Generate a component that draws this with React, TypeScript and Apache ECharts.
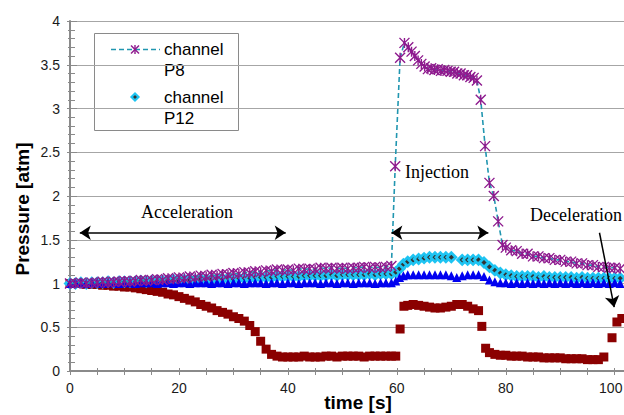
import React, { useEffect, useRef } from "react";
import * as echarts from "echarts";

// time [s], pressure [atm]
const channelP8: [number, number][] = [
  [0, 1.0], [1, 1.0], [2, 1.01], [3, 1.0], [4, 1.01], [5, 1.01], [6, 1.02], [7, 1.01], [8, 1.02], [9, 1.02],
  [10, 1.03], [11, 1.02], [12, 1.03], [13, 1.04], [14, 1.03], [15, 1.04], [16, 1.05], [17, 1.04], [18, 1.06], [19, 1.05],
  [20, 1.07], [21, 1.06], [22, 1.08], [23, 1.07], [24, 1.09], [25, 1.08], [26, 1.1], [27, 1.09], [28, 1.11], [29, 1.1],
  [30, 1.12], [31, 1.11], [32, 1.13], [33, 1.12], [34, 1.14], [35, 1.13], [36, 1.15], [37, 1.14], [38, 1.16], [39, 1.15],
  [40, 1.16], [41, 1.15], [42, 1.17], [43, 1.16], [44, 1.17], [45, 1.16], [46, 1.18], [47, 1.17], [48, 1.18], [49, 1.17],
  [50, 1.18], [51, 1.17], [52, 1.18], [53, 1.18], [54, 1.19], [55, 1.18], [56, 1.19], [57, 1.18], [58, 1.19], [59, 1.2],
  [59.7, 2.34], [60.6, 3.58], [61.4, 3.75], [62.1, 3.7], [62.7, 3.65], [63.3, 3.6], [63.9, 3.55], [64.5, 3.51],
  [65.1, 3.48], [65.7, 3.45], [66.3, 3.46], [66.9, 3.44], [67.5, 3.45], [68.1, 3.43], [68.7, 3.44], [69.3, 3.43],
  [69.9, 3.42], [70.5, 3.42], [71.1, 3.4], [71.7, 3.4], [72.3, 3.38], [72.9, 3.38], [73.5, 3.36], [74.1, 3.35],
  [74.7, 3.32], [75.4, 3.1], [76.2, 2.57], [77.0, 2.15], [77.8, 2.0], [78.6, 1.71], [79.4, 1.44],
  [80, 1.41], [81, 1.38], [82, 1.37], [83, 1.34], [84, 1.34], [85, 1.31], [86, 1.31], [87, 1.29], [88, 1.29], [89, 1.27],
  [90, 1.27], [91, 1.25], [92, 1.25], [93, 1.23], [94, 1.23], [95, 1.21], [96, 1.21], [97, 1.19], [98, 1.19], [99, 1.18],
  [100, 1.18], [101, 1.17],
];

const channelP12: [number, number][] = [
  [0, 1.0], [1, 1.0], [2, 1.01], [3, 1.0], [4, 1.01], [5, 1.01], [6, 1.01], [7, 1.02], [8, 1.01], [9, 1.02],
  [10, 1.02], [11, 1.02], [12, 1.02], [13, 1.03], [14, 1.02], [15, 1.03], [16, 1.03], [17, 1.03], [18, 1.03], [19, 1.04],
  [20, 1.03], [21, 1.04], [22, 1.04], [23, 1.04], [24, 1.05], [25, 1.04], [26, 1.05], [27, 1.05], [28, 1.05], [29, 1.06],
  [30, 1.05], [31, 1.06], [32, 1.06], [33, 1.06], [34, 1.07], [35, 1.07], [36, 1.07], [37, 1.07], [38, 1.08], [39, 1.08],
  [40, 1.08], [41, 1.08], [42, 1.08], [43, 1.09], [44, 1.09], [45, 1.09], [46, 1.09], [47, 1.09], [48, 1.1], [49, 1.09],
  [50, 1.1], [51, 1.1], [52, 1.1], [53, 1.1], [54, 1.1], [55, 1.11], [56, 1.1], [57, 1.11], [58, 1.11], [59, 1.11],
  [59.8, 1.13], [60.5, 1.17], [61.2, 1.22], [62, 1.25], [63, 1.27], [64, 1.28], [65, 1.29], [66, 1.3], [67, 1.3],
  [68, 1.3], [69, 1.3], [70, 1.3], [72, 1.27], [73, 1.27], [74, 1.27], [75, 1.27], [76, 1.24], [77, 1.19], [78, 1.15],
  [79, 1.12], [80, 1.1], [81, 1.09], [82, 1.08], [83, 1.08], [84, 1.08], [85, 1.08], [86, 1.07], [87, 1.08], [88, 1.07],
  [89, 1.07], [90, 1.07], [91, 1.07], [92, 1.07], [93, 1.06], [94, 1.07], [95, 1.06], [96, 1.06], [97, 1.06], [98, 1.06],
  [99, 1.06], [100, 1.06], [101, 1.06],
];

const blueChannel: [number, number][] = [
  [0, 1.0], [1, 1.01], [2, 1.01], [3, 1.0], [4, 1.01], [5, 1.01], [6, 1.0], [7, 1.01], [8, 1.01], [9, 1.0],
  [10, 1.01], [11, 1.01], [12, 1.0], [13, 1.01], [14, 1.01], [15, 1.01], [16, 1.0], [17, 1.01], [18, 1.01], [19, 1.0],
  [20, 1.01], [21, 1.01], [22, 1.0], [23, 1.01], [24, 1.01], [25, 1.01], [26, 1.0], [27, 1.01], [28, 1.01], [29, 1.0],
  [30, 1.01], [31, 1.01], [32, 1.0], [33, 1.01], [34, 1.01], [35, 1.01], [36, 1.0], [37, 1.01], [38, 1.01], [39, 1.0],
  [40, 1.01], [41, 1.01], [42, 1.0], [43, 1.01], [44, 1.01], [45, 1.01], [46, 1.0], [47, 1.01], [48, 1.01], [49, 1.0],
  [50, 1.01], [51, 1.01], [52, 1.0], [53, 1.01], [54, 1.01], [55, 1.01], [56, 1.0], [57, 1.01], [58, 1.01], [59, 1.01],
  [59.8, 1.03], [60.5, 1.07], [61.2, 1.09], [62, 1.1], [63, 1.1], [64, 1.1], [65, 1.1], [66, 1.1], [67, 1.1],
  [68, 1.1], [69, 1.1], [70, 1.09], [71, 1.07], [72, 1.09], [73, 1.1], [74, 1.1], [75, 1.1], [76, 1.08], [77, 1.04],
  [78, 1.02], [79, 1.01], [80, 1.01], [81, 1.0], [82, 1.01], [83, 1.0], [84, 1.01], [85, 1.0], [86, 1.01], [87, 1.0],
  [88, 1.01], [89, 1.0], [90, 1.01], [91, 1.0], [92, 1.01], [93, 1.0], [94, 1.01], [95, 1.0], [96, 1.01], [97, 1.0],
  [98, 1.01], [99, 1.0], [100, 1.01], [101, 1.0],
];

const redChannel: [number, number][] = [
  [0, 1.0], [1, 1.0], [2, 1.0], [3, 0.99], [4, 0.99], [5, 0.99], [6, 0.98], [7, 0.98], [8, 0.97], [9, 0.97],
  [10, 0.96], [11, 0.96], [12, 0.95], [13, 0.94], [14, 0.93], [15, 0.92], [16, 0.91], [17, 0.9], [18, 0.88], [19, 0.87],
  [20, 0.85], [21, 0.83], [22, 0.81], [23, 0.79], [24, 0.76], [25, 0.74], [26, 0.72], [27, 0.69], [28, 0.67], [29, 0.65],
  [30, 0.62], [31, 0.6], [32, 0.57], [33, 0.52], [34, 0.45], [35, 0.34], [36, 0.25], [37, 0.19], [38, 0.17], [39, 0.16],
  [40, 0.16], [41, 0.16], [42, 0.16], [43, 0.17], [44, 0.16], [45, 0.16], [46, 0.16], [47, 0.17], [48, 0.17], [49, 0.16],
  [50, 0.17], [51, 0.17], [52, 0.17], [53, 0.17], [54, 0.16], [55, 0.17], [56, 0.17], [57, 0.17], [58, 0.17], [59, 0.17],
  [59.8, 0.17], [60.6, 0.48], [61.3, 0.74], [62, 0.75], [63, 0.76], [64, 0.75], [65, 0.74], [66, 0.73], [67, 0.72],
  [68, 0.72], [69, 0.73], [70, 0.74], [71, 0.76], [72, 0.76], [73, 0.74], [74, 0.71], [75, 0.69], [75.6, 0.51],
  [76.3, 0.26], [77, 0.21], [78, 0.19], [79, 0.18], [80, 0.18], [81, 0.17], [82, 0.17], [83, 0.17], [84, 0.16],
  [85, 0.16], [86, 0.16], [87, 0.15], [88, 0.15], [89, 0.15], [90, 0.15], [91, 0.14], [92, 0.14], [93, 0.14],
  [94, 0.14], [95, 0.13], [96, 0.13], [97, 0.13], [98, 0.16], [99.5, 0.38], [100.4, 0.56], [101.3, 0.6],
];

const xLabelStep = 20;
const phaseArrows = {
  acceleration: [[1.8, 1.58], [39.6, 1.58]],
  injection: [[59.0, 1.58], [76.8, 1.58]],
  deceleration: [[97.2, 1.58], [99.9, 0.73]],
};

const SANS = "Liberation Sans, Arial, sans-serif";
const SERIF = "Liberation Serif, Times New Roman, serif";
const GREY = "#8a8a8a";

export default function App() {
  const ref = useRef<HTMLDivElement>(null);
  useEffect(() => {
    if (!ref.current) return;
    const chart = echarts.init(ref.current, null, { renderer: "svg" });
    const asterisk = "path://M0,0L10,10M10,0L0,10M5,0L5,10";
    const arrowStyle = { color: "#000", width: 1.5, type: "solid" };
    chart.setOption({
      animation: false,
      backgroundColor: "#fff",
      grid: { left: 70, right: 0, top: 21, bottom: 44, outerBoundsMode: "none", containLabel: false },
      xAxis: [
        {
          type: "value", min: 0, max: 101.7, interval: 5,
          axisLine: { lineStyle: { color: GREY, width: 2 } },
          axisTick: { length: 4, lineStyle: { color: GREY, width: 1 } },
          axisLabel: {
            formatter: (v: number) => {
              if (Math.abs(v % xLabelStep) > 1e-6) return "";
              return v >= 100 ? `{edge|${v}}` : String(v);
            },
            rich: { edge: { fontSize: 14, color: "#1a1a1a", fontFamily: SANS, padding: [0, 8, 0, 0] } },
            fontSize: 14, color: "#1a1a1a", fontFamily: SANS, margin: 10,
          },
          splitLine: { show: false },
          name: "time [s]", nameLocation: "middle", nameGap: 22, nameMoveOverlap: false,
          nameTextStyle: { fontSize: 19, fontWeight: "bold", color: "#000", fontFamily: SANS, padding: [0, 0, 0, 22] },
        },
        {
          type: "value", min: 0, max: 101.7, interval: 5, position: "bottom",
          axisLine: { show: false },
          axisTick: { inside: true, length: 3, lineStyle: { color: GREY, width: 1 } },
          axisLabel: { show: false }, splitLine: { show: false },
        },
      ],
      yAxis: [
        {
          type: "value", min: 0, max: 4, interval: 0.5,
          axisLine: { show: true, lineStyle: { color: GREY, width: 2 } },
          axisTick: { show: true, length: 3, lineStyle: { color: GREY, width: 1 } },
          minorTick: { show: true, splitNumber: 5, length: 2, lineStyle: { color: GREY, width: 1 } },
          axisLabel: { fontSize: 14, color: "#1a1a1a", fontFamily: SANS, margin: 10 },
          splitLine: { show: true, lineStyle: { color: "#a6a6a6", width: 1 } },
          name: "Pressure [atm]", nameLocation: "middle", nameGap: 38, nameMoveOverlap: false,
          nameTextStyle: { fontSize: 19, fontWeight: "bold", color: "#000", fontFamily: SANS, padding: [0, 26, 0, 0] },
        },
        {
          type: "value", min: 0, max: 4, interval: 0.5, position: "left",
          axisLine: { show: false },
          axisTick: { show: true, inside: true, length: 7, lineStyle: { color: GREY, width: 1 } },
          minorTick: { show: true, splitNumber: 5, length: 5, lineStyle: { color: GREY, width: 1 } },
          axisLabel: { show: false }, splitLine: { show: false },
        },
      ],
      series: [
        {
          name: "red", type: "scatter", data: redChannel, symbol: "rect", symbolSize: 9,
          itemStyle: { color: "#8b0000", opacity: 1 }, silent: true,
          markLine: {
            silent: true, animation: false, label: { show: false }, symbolSize: 11,
            lineStyle: arrowStyle,
            data: [
              [{ coord: phaseArrows.acceleration[0], symbol: "arrow" }, { coord: phaseArrows.acceleration[1], symbol: "arrow" }],
              [{ coord: phaseArrows.injection[0], symbol: "arrow" }, { coord: phaseArrows.injection[1], symbol: "arrow" }],
              [{ coord: phaseArrows.deceleration[0], symbol: "none" }, { coord: phaseArrows.deceleration[1], symbol: "arrow" }],
            ],
          },
        },
        {
          name: "channel P8", type: "line", data: channelP8, symbol: asterisk, symbolSize: 10, showAllSymbol: true,
          lineStyle: { color: "#2196b0", width: 1.6, type: [5, 3] },
          itemStyle: { color: "#8e1a8e", borderColor: "#8e1a8e", borderWidth: 1.4, opacity: 1 }, silent: true,
        },
        {
          name: "channel P12", type: "scatter", data: channelP12, symbol: "diamond", symbolSize: 9,
          itemStyle: { color: "#333", borderColor: "#1ec4f2", borderWidth: 2.8, opacity: 1 }, silent: true,
        },
        {
          name: "blue", type: "scatter", data: blueChannel, symbol: "triangle", symbolSize: 9,
          itemStyle: { color: "#0000f0", opacity: 1 }, silent: true,
        },
      ],
      graphic: [
        {
          type: "group", z: 100, children: [
            { type: "rect", shape: { x: 94.5, y: 33.5, width: 144, height: 97 }, style: { fill: "#fff", stroke: GREY, lineWidth: 1 } },
            { type: "line", shape: { x1: 111, y1: 49.5, x2: 160, y2: 49.5 }, style: { stroke: "#2196b0", lineWidth: 1.6, lineDash: [5, 3] } },
            { type: "line", shape: { x1: 131, y1: 45.5, x2: 139, y2: 53.5 }, style: { stroke: "#8e1a8e", lineWidth: 1.4 } },
            { type: "line", shape: { x1: 139, y1: 45.5, x2: 131, y2: 53.5 }, style: { stroke: "#8e1a8e", lineWidth: 1.4 } },
            { type: "line", shape: { x1: 135, y1: 45, x2: 135, y2: 54 }, style: { stroke: "#8e1a8e", lineWidth: 1.4 } },
            { type: "text", x: 164, y: 49, style: { text: "channel", fontSize: 17, fontFamily: SANS, fill: "#000", verticalAlign: "middle" } },
            { type: "text", x: 164, y: 70, style: { text: "P8", fontSize: 17, fontFamily: SANS, fill: "#000", verticalAlign: "middle" } },
            { type: "polygon", shape: { points: [[135, 93.5], [138.5, 97], [135, 100.5], [131.5, 97]] }, style: { fill: "#333", stroke: "#1ec4f2", lineWidth: 2.2 } },
            { type: "text", x: 164, y: 97, style: { text: "channel", fontSize: 17, fontFamily: SANS, fill: "#000", verticalAlign: "middle" } },
            { type: "text", x: 164, y: 118, style: { text: "P12", fontSize: 17, fontFamily: SANS, fill: "#000", verticalAlign: "middle" } },
          ],
        },
        { type: "text", z: 100, x: 141, y: 212, style: { text: "Acceleration", fontSize: 18, fontFamily: SERIF, fill: "#000", verticalAlign: "middle" } },
        { type: "text", z: 100, x: 405, y: 172, style: { text: "Injection", fontSize: 18, fontFamily: SERIF, fill: "#000", verticalAlign: "middle" } },
        { type: "text", z: 100, x: 530, y: 215, style: { text: "Deceleration", fontSize: 18, fontFamily: SERIF, fill: "#000", verticalAlign: "middle" } },
      ],
    });
    return () => chart.dispose();
  }, []);
  return <div ref={ref} style={{ position: "fixed", left: 0, top: 0, width: 624, height: 415, background: "#fff" }} />;
}
